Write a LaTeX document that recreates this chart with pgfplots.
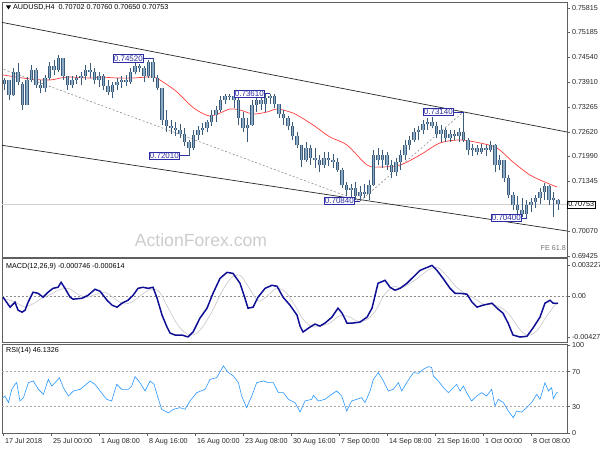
\documentclass[border=0pt]{standalone}
\usepackage{fontspec}
\setmainfont{Liberation Sans}
\usepackage{pgfplots}
\pgfplotsset{compat=1.18}
\usepackage{pgfplotstable}

\definecolor{wick}{RGB}{58,92,122}
\definecolor{bodyin}{RGB}{140,170,195}
\definecolor{maRed}{RGB}{255,60,60}
\definecolor{lblBlue}{RGB}{45,45,165}
\definecolor{frameGray}{RGB}{95,95,95}
\definecolor{macdBlue}{RGB}{15,15,150}
\definecolor{rsiBlue}{RGB}{40,150,255}

\newcommand{\tickfont}{\fontsize{7.2}{8.4}\selectfont}

% 4H candles, grouped by three bars (bar index, open, high, low, close)
\pgfplotstableread{
b o h l c
1 0.73857 0.74011 0.73702 0.73960
4 0.73960 0.73960 0.73444 0.73573
7 0.73573 0.74269 0.73548 0.74166
10 0.74166 0.74398 0.73831 0.73908
13 0.73857 0.73908 0.73187 0.73316
16 0.73316 0.74037 0.73316 0.73960
19 0.73960 0.74346 0.73908 0.74217
22 0.74217 0.74269 0.73754 0.73831
25 0.73831 0.73960 0.73625 0.73754
28 0.73754 0.74089 0.73651 0.74011
31 0.74011 0.74423 0.73960 0.74320
34 0.74320 0.74475 0.74089 0.74217
37 0.74217 0.74604 0.74166 0.74527
40 0.74527 0.74527 0.73960 0.74063
43 0.74063 0.74063 0.73702 0.73831
46 0.73831 0.74063 0.73754 0.73960
49 0.73960 0.74089 0.73857 0.74011
52 0.74011 0.74166 0.73831 0.74063
55 0.74063 0.74346 0.73960 0.74217
58 0.74217 0.74398 0.74011 0.74166
61 0.74166 0.74269 0.73857 0.73960
64 0.73960 0.74166 0.73779 0.74063
67 0.74063 0.74114 0.73702 0.73805
70 0.73805 0.73960 0.73573 0.73651
73 0.73651 0.73908 0.73496 0.73831
76 0.73831 0.74011 0.73702 0.73908
79 0.73908 0.74063 0.73754 0.73960
82 0.73960 0.74089 0.73805 0.73908
85 0.73908 0.74269 0.73857 0.74166
88 0.74166 0.74423 0.74114 0.74320
91 0.74320 0.74372 0.74166 0.74269
94 0.74269 0.74320 0.73908 0.74063
97 0.74063 0.74475 0.74011 0.74423
100 0.74423 0.74520 0.73908 0.74011
103 0.74011 0.74089 0.73702 0.73754
106 0.73754 0.73754 0.72800 0.72929
109 0.72929 0.73187 0.72620 0.72775
112 0.72775 0.72929 0.72568 0.72723
115 0.72723 0.72878 0.72517 0.72671
118 0.72671 0.72826 0.72465 0.72568
121 0.72568 0.72723 0.72259 0.72362
124 0.72362 0.72414 0.72010 0.72208
127 0.72208 0.72671 0.72156 0.72543
130 0.72543 0.72775 0.72414 0.72671
133 0.72671 0.72852 0.72543 0.72723
136 0.72723 0.72929 0.72620 0.72878
139 0.72878 0.73187 0.72775 0.73058
142 0.73058 0.73290 0.72878 0.73187
145 0.73187 0.73548 0.73135 0.73444
148 0.73444 0.73600 0.73341 0.73560
151 0.73560 0.73600 0.73444 0.73548
154 0.73548 0.73599 0.73238 0.73444
157 0.73444 0.73496 0.72800 0.72981
160 0.72981 0.73135 0.72620 0.72723
163 0.72723 0.72981 0.72362 0.72800
166 0.72800 0.73444 0.72775 0.73316
169 0.73316 0.73548 0.73135 0.73444
172 0.73444 0.73573 0.73187 0.73341
175 0.73341 0.73599 0.73135 0.73496
178 0.73496 0.73610 0.73341 0.73548
181 0.73548 0.73599 0.73238 0.73341
184 0.73341 0.73341 0.72981 0.73084
187 0.73084 0.73187 0.72800 0.72981
190 0.72981 0.73032 0.72671 0.72775
193 0.72775 0.72878 0.72414 0.72517
196 0.72517 0.72620 0.72208 0.72285
199 0.72285 0.72285 0.71718 0.71898
202 0.71898 0.72362 0.71847 0.72208
205 0.72208 0.72285 0.71770 0.71950
208 0.71950 0.72208 0.71692 0.71898
211 0.71898 0.72027 0.71589 0.71770
214 0.71770 0.72105 0.71692 0.71950
217 0.71950 0.72105 0.71744 0.71898
220 0.71898 0.72053 0.71692 0.71847
223 0.71847 0.71950 0.71589 0.71641
226 0.71641 0.71692 0.71177 0.71254
229 0.71254 0.71332 0.70971 0.71125
232 0.71125 0.71280 0.70919 0.71177
235 0.71177 0.71332 0.70868 0.70971
238 0.70971 0.71229 0.70840 0.71074
241 0.71074 0.71280 0.70919 0.71022
244 0.71022 0.71383 0.70868 0.71254
247 0.71254 0.72156 0.71229 0.72027
250 0.72027 0.72208 0.71770 0.71898
253 0.71898 0.72156 0.71692 0.72027
256 0.72027 0.72105 0.71641 0.71770
259 0.71770 0.71898 0.71435 0.71589
262 0.71589 0.71950 0.71486 0.71847
265 0.71847 0.72156 0.71641 0.72027
268 0.72027 0.72414 0.71898 0.72285
271 0.72285 0.72517 0.72156 0.72414
274 0.72414 0.72723 0.72362 0.72620
277 0.72620 0.72775 0.72414 0.72671
280 0.72671 0.72929 0.72568 0.72826
283 0.72826 0.72981 0.72671 0.72878
286 0.72878 0.73006 0.72723 0.72775
289 0.72775 0.72878 0.72465 0.72568
292 0.72568 0.72800 0.72362 0.72671
295 0.72671 0.72723 0.72362 0.72465
298 0.72465 0.72671 0.72362 0.72568
301 0.72568 0.72671 0.72414 0.72517
304 0.72517 0.72723 0.72362 0.72620
307 0.72620 0.73140 0.72362 0.72414
310 0.72414 0.72465 0.72027 0.72156
313 0.72156 0.72311 0.72002 0.72208
316 0.72208 0.72285 0.72027 0.72105
319 0.72105 0.72311 0.72053 0.72208
322 0.72208 0.72285 0.72002 0.72156
325 0.72156 0.72388 0.72105 0.72285
328 0.72285 0.72311 0.71589 0.71770
331 0.71770 0.72027 0.71641 0.71898
334 0.71898 0.71898 0.71332 0.71435
337 0.71435 0.71512 0.70919 0.70997
340 0.70997 0.71074 0.70610 0.70739
343 0.70739 0.70971 0.70507 0.70610
346 0.70610 0.70919 0.70430 0.70507
349 0.70507 0.70868 0.70400 0.70739
352 0.70739 0.70919 0.70559 0.70816
355 0.70816 0.70997 0.70662 0.70919
358 0.70919 0.71177 0.70765 0.71074
361 0.71074 0.71306 0.70868 0.71229
364 0.71229 0.71254 0.70739 0.70868
367 0.70868 0.71074 0.70430 0.70919
370 0.70880 0.70900 0.70610 0.70753
}\candles

\pgfplotsset{
  panel/.style={
    scale only axis, width=565bp, anchor=south west,
    xmin=-0.7, xmax=376,
    axis line style={frameGray, line width=0.8bp},
    tick style={frameGray, line width=0.6bp},
    tick align=outside, major tick length=3bp,
    ytick pos=right, yticklabel pos=right,
    xtick=\empty, scaled y ticks=false,
    yticklabel style={font=\tickfont, text=black!85, xshift=-1.5bp},
    clip mode=individual,
  },
  candle/.style={only marks, mark=*, mark size=0pt,
    mark options={draw=none, fill=none}, forget plot,
    error bars/.cd, y dir=plus, y explicit, error mark=none},
}
\tikzset{
  lbl/.style={draw=lblBlue, text=lblBlue, fill=white,
    font=\fontsize{8}{9}\selectfont,
    inner xsep=1bp, inner ysep=0.8bp, line width=0.6bp, anchor=east},
}

\begin{document}
\begin{tikzpicture}
\useasboundingbox (0,0) rectangle (600bp,450bp);

\node[text=black!20, font=\fontsize{17.7}{20}\selectfont] at (201bp,210bp) {ActionForex.com};

% price panel
\begin{axis}[panel, at={(2bp,193bp)}, height=255bp,
  ymin=0.69399, ymax=0.75970,
  ytick={0.69425,0.70070,0.71345,0.71990,0.72620,0.73265,0.73910,0.74540,0.75185,0.75815},
  yticklabels={0.69425,0.70070,0.71345,0.71990,0.72620,0.73265,0.73910,0.74540,0.75185,0.75815}]
  \addplot[black!18, line width=0.6bp] coordinates {(-1,0.70753) (376,0.70753)};
  \addplot[black!85, line width=0.7bp] coordinates {(-2,0.75454) (376,0.72620)};
  \addplot[black!85, line width=0.7bp] coordinates {(-2,0.72285) (376,0.70069)};
  \addplot[black!45, line width=0.6bp, dash pattern=on 2bp off 2bp]
    coordinates {(-2,0.74269) (238,0.70840) (307,0.73140)};
  \addplot[maRed, line width=0.7bp, smooth] coordinates {
    (0,0.74089) (18,0.73986) (31.3,0.73960) (42.7,0.74037) (58,0.74011)
    (64.7,0.74037) (76,0.74011) (86.7,0.74011) (100,0.74037) (106.7,0.73908)
    (116,0.73651) (124.7,0.73316) (131.3,0.73135) (138,0.73032) (144.7,0.73109)
    (151.3,0.73213) (158,0.73187) (166.7,0.73084) (176,0.73135) (182.7,0.73213)
    (191.3,0.73135) (196,0.73058) (206.7,0.72800) (218,0.72491) (229.3,0.72285)
    (242.7,0.71770) (251.3,0.71718) (264.7,0.71770) (278,0.72027) (291.3,0.72337)
    (304.7,0.72414) (318,0.72337) (329.3,0.72208) (340,0.71847) (351.3,0.71512)
    (362.7,0.71306) (369.3,0.71203)};
  % wicks
  \addplot[candle, error bar style={draw=wick, line width=0.7bp}]
    table[x=b, y=l, y error expr=\thisrow{h}-\thisrow{l}] {\candles};
  % bodies
  \addplot[candle, error bar style={draw=wick, line width=3.2bp}]
    table[x=b, y expr={min(\thisrow{o},\thisrow{c})},
          y error expr={abs(\thisrow{c}-\thisrow{o})}] {\candles};
  \addplot[candle, error bar style={draw=bodyin, line width=1.2bp}]
    table[x=b, y expr={min(\thisrow{o},\thisrow{c})},
          y error expr={abs(\thisrow{c}-\thisrow{o})}] {\candles};
  % swing labels
  \draw[lblBlue, line width=0.6bp] (axis cs:94,0.74520) -- (axis cs:100,0.74520);
  \node[lbl] at (axis cs:94,0.74520) {0.74520};
  \draw[lblBlue, line width=0.6bp] (axis cs:174.7,0.73610) -- (axis cs:178,0.73610);
  \node[lbl] at (axis cs:174.7,0.73610) {0.73610};
  \draw[lblBlue, line width=0.6bp] (axis cs:118,0.72010) -- (axis cs:124,0.72010);
  \node[lbl] at (axis cs:118,0.72010) {0.72010};
  \draw[lblBlue, line width=0.6bp] (axis cs:234.7,0.70840) -- (axis cs:238,0.70840);
  \node[lbl] at (axis cs:234.7,0.70840) {0.70840};
  \draw[lblBlue, line width=0.6bp] (axis cs:300.7,0.73140) -- (axis cs:307,0.73140);
  \node[lbl] at (axis cs:300.7,0.73140) {0.73140};
  \draw[lblBlue, line width=0.6bp] (axis cs:346,0.70400) -- (axis cs:349,0.70400);
  \node[lbl] at (axis cs:346,0.70400) {0.70400};
  \node[draw=black, fill=white, font=\tickfont, inner sep=0.9bp, line width=0.7bp,
    anchor=west] at (axis cs:376,0.70753) {0.70753};
\end{axis}

% MACD panel
\begin{axis}[panel, at={(2bp,108bp)}, height=83.5bp,
  ymin=-0.00480, ymax=0.003957,
  ytick={-0.004279,0,0.003227}, yticklabels={-0.004279,0.00,0.003227}]
  \addplot[black!45, line width=0.6bp, dash pattern=on 2bp off 2bp]
    coordinates {(-1,0) (376,0)};
  \addplot[black!22, line width=0.6bp, smooth] coordinates {
    (0,-0.0002) (8,-0.0006) (14,-0.0011) (20,-0.0008) (26,-0.0002) (32,0.0002)
    (38,0.0007) (44,0.0008) (50,0.0002) (56,-0.0001) (62,0.0002) (68,0.0004)
    (74,-0.0002) (80,-0.0008) (86,-0.0006) (92,0.0001) (98,0.0007) (104,0.0005)
    (110,-0.0012) (116,-0.0029) (122,-0.0039) (128,-0.0040) (134,-0.0030)
    (140,-0.0014) (146,0.0005) (152,0.0019) (158,0.0022) (164,0.0009)
    (170,-0.0005) (176,0.0000) (182,0.0008) (188,0.0005) (194,-0.0008)
    (200,-0.0024) (206,-0.0032) (212,-0.0031) (218,-0.0028) (224,-0.0021)
    (230,-0.0021) (236,-0.0026) (242,-0.0025) (248,-0.0016) (254,0.0001)
    (260,0.0010) (266,0.0009) (272,0.0014) (278,0.0021) (284,0.0028)
    (290,0.0030) (296,0.0021) (302,0.0010) (308,0.0003) (314,-0.0002)
    (320,-0.0008) (326,-0.0009) (332,-0.0012) (338,-0.0020) (344,-0.0034)
    (350,-0.0041) (356,-0.0036) (362,-0.0022) (368,-0.0009) (370,-0.000614)};
  \addplot[macdBlue, line width=1.5bp] coordinates {
    (0,-0.00010) (4.7,-0.00115) (8,-0.00063) (10,-0.00146) (12.7,-0.00167)
    (14.7,-0.00146) (16.7,-0.00063) (20,0.00042) (23.3,0.00031) (26.7,-0.00010)
    (30,0.00042) (33.3,0.00083) (36.7,0.00094) (38.7,0.00146) (41.3,0.00083)
    (44.7,-0.00010) (46.7,-0.00031) (52.7,-0.00021) (56.7,0.00010) (61.3,0.00073)
    (64.7,0.00052) (69.3,-0.00042) (72.7,-0.00094) (76,-0.00115) (79.3,-0.00073)
    (83.3,-0.00042) (86.7,0.00010) (90,0.00083) (93.3,0.00094) (96.7,0.00083)
    (100,0.00094) (102.7,-0.00021) (106,-0.00198) (109.3,-0.00323) (111.3,-0.00386)
    (114.7,-0.00407) (119.3,-0.00407) (123.3,-0.00427) (126.7,-0.00375)
    (131.3,-0.00229) (136,-0.00125) (140,0.00031) (144.7,0.00188) (149.3,0.00250)
    (153.3,0.00240) (158,0.00136) (161.3,-0.00021) (163.3,-0.00125)
    (166.7,-0.00115) (170,-0.00010) (174.7,0.00083) (179.3,0.00115) (182.7,0.00104)
    (186.7,-0.00010) (191.3,-0.00094) (196,-0.00198) (198,-0.00313) (200,-0.00375)
    (204.7,-0.00323) (208,-0.00292) (211.3,-0.00313) (214.7,-0.00281)
    (219.3,-0.00219) (223.3,-0.00125) (226,-0.00177) (229.3,-0.00281)
    (233.3,-0.00281) (238,-0.00271) (242.7,-0.00219) (246,-0.00125) (250,0.00136)
    (254.7,0.00167) (258,0.00094) (261.3,0.00063) (264.7,0.00083) (269.3,0.00136)
    (273.3,0.00198) (278,0.00271) (282.7,0.00302) (286,0.00323) (289.3,0.00271)
    (293.3,0.00188) (298,0.00083) (301.3,0.00031) (304.7,0.00031) (309.3,0.00021)
    (312.7,-0.00063) (316,-0.00115) (320,-0.00094) (326,-0.00073) (329.3,-0.00125)
    (333.3,-0.00177) (336.7,-0.00281) (340,-0.00407) (344.7,-0.00428)
    (349.3,-0.00420) (353.3,-0.00334) (358,-0.00219) (361.3,-0.00073)
    (364.7,-0.00042) (366.7,-0.00073) (370,-0.00075)};
\end{axis}

% RSI panel
\begin{axis}[panel, at={(2bp,17bp)}, height=89bp,
  ymin=0, ymax=101.5,
  ytick={0,30,70,100}, yticklabels={0,30,70,100},
  xtick={0,32,64,96,128,160,192,224,256,288,320,352},
  xticklabels={17 Jul 2018,25 Jul 00:00,1 Aug 08:00,8 Aug 16:00,16 Aug 00:00,
    23 Aug 08:00,30 Aug 16:00,7 Sep 00:00,14 Sep 08:00,21 Sep 16:00,
    1 Oct 00:00,8 Oct 08:00},
  xtick pos=bottom, xticklabel pos=bottom,
  xticklabel style={font=\tickfont, text=black!85, anchor=north west, xshift=-1.5bp, yshift=1bp}]
  \addplot[black!35, line width=0.6bp, dash pattern=on 2bp off 2bp]
    coordinates {(-1,70) (376,70)};
  \addplot[black!35, line width=0.6bp, dash pattern=on 2bp off 2bp]
    coordinates {(-1,30) (376,30)};
  \addplot[rsiBlue, line width=0.6bp] coordinates {
    (0,40.3) (1.3,42.2) (3.6,34.6) (5.8,49.8) (8,55.5) (9.1,57.4) (11.3,36.5)
    (13.6,40.3) (16.9,57.4) (20.2,59.3) (23.6,49.8) (26.9,44.1) (30.2,61.2)
    (32.4,53.6) (34.7,57.4) (37.6,63.1) (40.2,51.7) (43.6,42.2) (46.9,47.9)
    (51.3,49.8) (54.7,54.4) (58,59.3) (61.3,55.5) (64.7,47.9) (69.1,38.4)
    (72.4,36.5) (75.8,55.5) (79.1,49.8) (83.6,49.8) (85.8,53.6) (88,64.3)
    (91.3,57.4) (94.7,47.9) (98,59.3) (100.7,55.5) (103.6,38.4) (105.8,27.0)
    (110.2,23.1) (113.6,27.0) (118,28.9) (121.3,27.0) (124.7,36.5) (129.1,46.0)
    (134.7,49.8) (138,61.2) (142.4,63.1) (146.9,76.5) (150.2,68.9) (153.6,65.0)
    (156.9,57.4) (159.1,42.2) (162.4,28.9) (165.8,42.2) (169.1,57.4) (173.6,59.3)
    (176.9,57.4) (180.2,57.4) (183.6,46.0) (186.9,46.0) (190.2,38.4) (194.7,34.6)
    (198,24.0) (201.3,36.5) (205.8,38.4) (206.9,43.0) (210.2,36.5) (214.7,38.4)
    (219.1,44.1) (222.4,47.9) (225.8,42.2) (229.1,25.0) (232.4,36.5) (235.8,38.4)
    (239.1,40.3) (241.3,34.6) (244.7,47.9) (246.9,61.2) (250.2,68.9) (253.6,59.3)
    (256.9,47.9) (260.2,49.8) (263.6,57.4) (265.8,47.9) (269.1,57.4) (273.6,68.9)
    (276.9,68.1) (280.2,72.7) (283.6,75.7) (285.8,74.6) (286.9,65.0) (290.2,59.3)
    (293.6,51.7) (296.9,46.0) (300.2,51.7) (302.4,55.5) (304.7,47.9) (306.9,53.6)
    (309.1,46.0) (312.4,36.5) (315.8,42.2) (319.1,46.0) (322.4,42.2) (325.8,49.8)
    (328,30.8) (330.2,38.4) (333.6,34.6) (336.9,25.0) (340.2,17.4) (342.4,25.0)
    (345.8,23.9) (349.1,28.9) (352.4,34.6) (355.8,44.1) (358,38.4) (361.3,57.4)
    (363.6,47.9) (365.8,51.7) (366.9,39.1) (369.1,46.0) (370,46.13)};
\end{axis}

% panel captions
\fill[black] (6bp,444.5bp) -- (11bp,444.5bp) -- (8.5bp,440.5bp) -- cycle;
\node[anchor=west, font=\tickfont, inner sep=0pt] at (13bp,442.5bp)
  {AUDUSD,H4\ \ 0.70702 0.70760 0.70650 0.70753};
\node[anchor=west, font=\tickfont, inner sep=0pt] at (6bp,183.5bp)
  {MACD(12,26,9) -0.000746 -0.000614};
\node[anchor=west, font=\tickfont, inner sep=0pt] at (6bp,99bp)
  {RSI(14) 46.1326};
\node[anchor=east, font=\tickfont, text=black!55, inner sep=0pt] at (566bp,202bp)
  {FE 61.8};
\end{tikzpicture}
\end{document}
